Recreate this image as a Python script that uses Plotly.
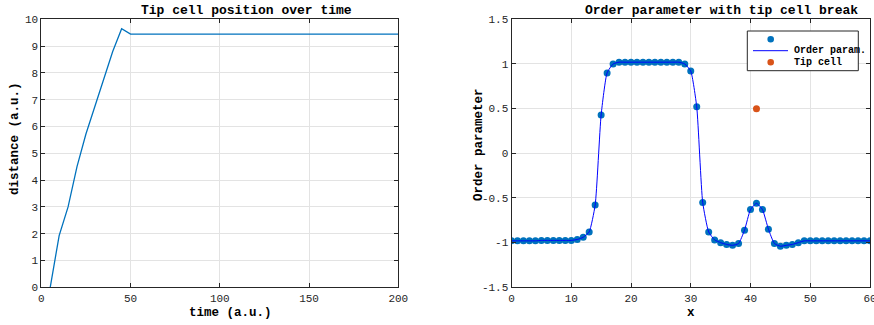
import plotly.graph_objects as go

# Left panel data
time_pts = [5, 10, 15, 20, 25, 30, 35, 40, 45, 50, 60, 80, 100, 120, 140, 160, 180, 200]
distance = [0, 1.93, 3.0, 4.5, 5.72, 6.75, 7.8, 8.8, 9.65, 9.45, 9.45, 9.45, 9.45, 9.45, 9.45, 9.45, 9.45, 9.45]

# Right panel data
x_vals = list(range(61))
order_param = [-0.98, -0.98, -0.98, -0.98, -0.98, -0.975, -0.975, -0.975, -0.975, -0.975,
               -0.975, -0.965, -0.94, -0.88, -0.58, 0.43, 0.90, 1.0, 1.02, 1.02,
               1.02, 1.02, 1.02, 1.02, 1.02, 1.02, 1.02, 1.02, 1.02, 1.0,
               0.92, 0.52, -0.55, -0.88, -0.97, -1.0, -1.02, -1.03, -1.01, -0.86,
               -0.63, -0.56, -0.63, -0.85, -1.01, -1.04, -1.03, -1.02, -1.0, -0.98,
               -0.98, -0.98, -0.98, -0.98, -0.98, -0.98, -0.98, -0.98, -0.98, -0.98, -0.98]
tip_x = [41]
tip_y = [0.5]

left_xticks = [0, 50, 100, 150, 200]
left_yticks = list(range(11))
right_xticks = [0, 10, 20, 30, 40, 50, 60]
right_yticks = [-1.5, -1, -0.5, 0, 0.5, 1, 1.5]
right_yticklabels = ["-1.5", "-1", "-0.5", "0", "0.5", "1", "1.5"]
legend_labels = ["", "Order param.", "Tip cell"]

W, H = 874, 325
MONO = "Liberation Mono"
TXT = "#262626"
BLUE = "#0072BD"
LINEBLUE = "#0000FF"
ORANGE = "#D95319"

fig = go.Figure()

fig.add_trace(go.Scatter(x=time_pts, y=distance, mode="lines",
                         line=dict(color=BLUE, width=1.3),
                         xaxis="x", yaxis="y", showlegend=False))

fig.add_trace(go.Scatter(x=x_vals, y=order_param, mode="markers",
                         marker=dict(color=BLUE, size=7),
                         name=legend_labels[0], xaxis="x2", yaxis="y2", showlegend=False))
fig.add_trace(go.Scatter(x=x_vals, y=order_param, mode="lines",
                         line=dict(color=LINEBLUE, width=1, shape="spline", smoothing=0.5),
                         name=legend_labels[1], xaxis="x2", yaxis="y2", showlegend=False))
fig.add_trace(go.Scatter(x=tip_x, y=tip_y, mode="markers",
                         marker=dict(color=ORANGE, size=7),
                         name=legend_labels[2], xaxis="x2", yaxis="y2", showlegend=False))

def ax_common():
    return dict(showline=True, linecolor="#262626", linewidth=1, mirror="ticks",
                ticks="inside", ticklen=4, tickcolor="#262626", automargin=False,
                ticklabeloverflow="allow",
                showgrid=True, gridcolor="#e3e3e3", gridwidth=1, zeroline=False,
                tickfont=dict(family=MONO, size=11, color=TXT))

ydom = [(H - 287.3) / H, (H - 19.3) / H]

fig.update_layout(
    width=W, height=H,
    margin=dict(l=0, r=0, t=0, b=0, autoexpand=False),
    paper_bgcolor="white", plot_bgcolor="white",
    xaxis=dict(domain=[41.3 / W, 398.3 / W], range=[0, 200], tickvals=left_xticks,
               anchor="y", **ax_common()),
    yaxis=dict(domain=ydom, range=[0, 10], tickvals=left_yticks, anchor="x", **ax_common()),
    xaxis2=dict(domain=[511.5 / W, 870 / W], range=[0, 60], tickvals=right_xticks,
                anchor="y2", **ax_common()),
    yaxis2=dict(domain=ydom, range=[-1.5, 1.5], tickvals=right_yticks,
                ticktext=right_yticklabels, anchor="x2", **ax_common()),
    showlegend=False,
)

def px(x):
    return x / W

def py(y):
    return 1 - y / H

def ann(text, x, y, size, angle=0, xanchor="center"):
    fig.add_annotation(text=text, x=px(x), y=py(y), xref="paper", yref="paper",
                       showarrow=False, textangle=angle,
                       font=dict(family=MONO, size=size, color="black", weight="bold"),
                       xanchor=xanchor, yanchor="middle")

ann("Tip cell position over time", 247, 10, 13)
ann("Order parameter with tip cell break", 721, 10, 13)
ann("time (a.u.)", 231, 313, 12.5)
ann("x", 691, 313, 12.5)
ann("distance (a.u.)", 15, 139, 12.5, -90)
ann("Order parameter", 479, 144, 12.5, -90)

# Manual legend box (MATLAB-style compact legend)
fig.add_shape(type="rect", xref="paper", yref="paper",
              x0=px(747.3), x1=px(858.3), y0=py(70.7), y1=py(31),
              line=dict(color="#262626", width=1), fillcolor="white", layer="above")
r = 3.3
for cy, col in [(39.3, BLUE), (62.3, ORANGE)]:
    fig.add_shape(type="circle", xref="paper", yref="paper",
                  x0=px(770.7 - r), x1=px(770.7 + r), y0=py(cy + r), y1=py(cy - r),
                  line=dict(color=col, width=0), fillcolor=col, layer="above")
fig.add_shape(type="line", xref="paper", yref="paper",
              x0=px(753), x1=px(788), y0=py(50.7), y1=py(50.7),
              line=dict(color=LINEBLUE, width=1), layer="above")
for text, cy in [(legend_labels[1], 50.5), (legend_labels[2], 62.3)]:
    fig.add_annotation(text=text, x=px(791.5), y=py(cy), xref="paper", yref="paper",
                       showarrow=False, xanchor="left", yanchor="middle",
                       font=dict(family=MONO, size=10, color="black", weight="bold"))

fig.write_html("out.html")
